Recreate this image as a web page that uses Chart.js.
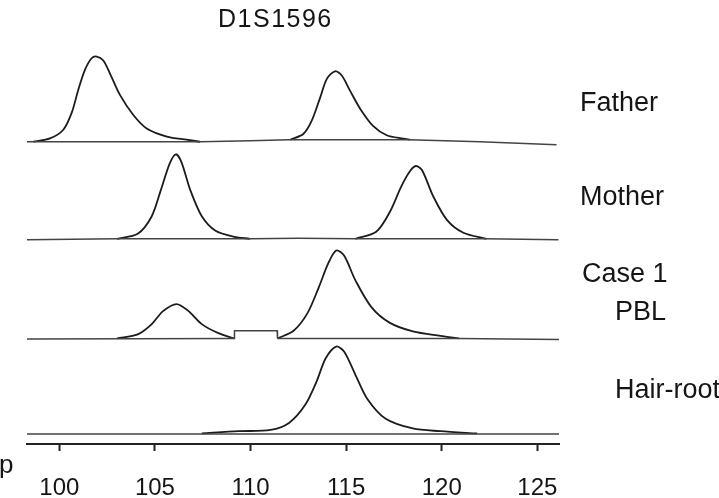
<!DOCTYPE html>
<html>
<head>
<meta charset="utf-8">
<script src="https://cdn.jsdelivr.net/npm/chart.js@4.4.1/dist/chart.umd.min.js"></script>
<style>
  html, body { margin: 0; padding: 0; background: #ffffff; }
  #wrap { width: 719px; height: 498px; position: relative; }
  canvas { display: block; }
</style>
</head>
<body>
<div id="wrap"><canvas id="c" width="719" height="498"></canvas></div>
<script>
// ---------------- data ----------------
const TITLE = 'D1S1596';
const AXIS_UNIT = 'p';
const X_TICKS = [100, 105, 110, 115, 120, 125];
const LANE_LABELS = ['Father', 'Mother', 'Case 1', 'PBL', 'Hair-root'];

// [size (bp), signal]
const fatherBaseline = [[98.31,0],[107.4,0],[110,1],[112,2],[118.3,2],[122,0],[126,-3]];
const fatherPeak1 = [[98.64,0],[99.51,3.3],[100.21,12],[100.65,29],[100.99,51.7],[101.34,71.7],[101.69,83.3],[101.96,85],[102.30,81],[102.65,68],[103.17,46.7],[103.87,26.7],[104.57,13.3],[105.62,5.2],[106.66,2],[107.36,0]];
const fatherPeak2 = [[112.07,2],[112.76,7.7],[113.20,21],[113.64,44],[113.99,62.7],[114.42,70.3],[114.77,66],[115.20,51],[115.73,33],[116.42,15.5],[117.12,6.5],[117.99,3],[118.34,2]];

const motherBaseline = [[98.31,-1],[103,0],[110,0],[112.5,0.5],[115.5,0],[122.3,0],[126.1,-1]];
const motherPeak1 = [[103.02,0],[104.10,5],[104.82,22],[105.30,48],[105.77,75],[106.09,84.3],[106.38,76.7],[106.86,48],[107.45,22.5],[108.17,8],[109.14,2],[109.97,0]];
const motherPeak2 = [[115.49,0],[116.57,7],[117.29,27],[117.89,52.5],[118.37,68.3],[118.66,72.6],[118.97,68.3],[119.57,41.7],[120.29,18.3],[121.13,6],[122.33,0]];

const caseBaseline = [[98.31,-0.5],[109.14,0],[110.3,null],[111.41,0],[120.9,0],[126.13,-1]];
const caseStep = [[109.14,0],[109.16,7.7],[111.39,7.7],[111.41,0]];
const casePeak1 = [[103.02,0],[104.10,4],[104.82,14],[105.41,27],[106.13,34.3],[106.73,27.7],[107.45,14.3],[108.29,5.5],[109.14,0]];
const casePeak2 = [[111.41,0],[112.25,7.7],[112.97,25],[113.57,51],[114.05,74.3],[114.48,87.7],[114.89,82.7],[115.49,57.7],[116.33,31],[117.29,15.5],[118.49,7],[119.93,2.5],[120.89,0]];

const hairBaseline = [[98.31,-0.5],[126.13,-0.5]];
const hairPeak = [[107.45,0],[109.37,2.3],[111.05,3.5],[112.01,10.5],[112.85,28.3],[113.45,51.7],[113.93,75],[114.48,86.7],[114.89,81.7],[115.49,58.3],[116.09,35],[117.05,15],[118.49,5],[119.93,2.3],[121.85,0]];

// ---------------- chart ----------------
const FONT = "'Liberation Sans', Arial, Helvetica, sans-serif";
const toPts = arr => arr.map(p => ({x: p[0], y: p[1]}));

function baseDs(arr, axis) {
  return { data: toPts(arr), yAxisID: axis, borderColor: '#444444', borderWidth: 1.5,
           pointRadius: 0, tension: 0, spanGaps: false, fill: false };
}
function peakDs(arr, axis) {
  return { data: toPts(arr), yAxisID: axis, borderColor: '#1c1c1c', borderWidth: 1.8,
           pointRadius: 0, tension: 0.3, fill: false };
}

const laneAxis = (min, max) => ({
  type: 'linear', position: 'left', stack: 'lanes', stackWeight: 1,
  min: min, max: max, display: true,
  ticks: { display: false },
  grid: { display: false, drawTicks: false },
  border: { display: false }
});

const textPlugin = {
  id: 'texts',
  afterDraw(chart) {
    const ctx = chart.ctx;
    ctx.save();
    ctx.fillStyle = '#151515';
    ctx.textBaseline = 'alphabetic';
    ctx.textAlign = 'left';
    ctx.font = '25px ' + FONT;
    if ('letterSpacing' in ctx) ctx.letterSpacing = '1.5px';
    ctx.fillText(TITLE, 218, 27);
    if ('letterSpacing' in ctx) ctx.letterSpacing = '0px';
    ctx.font = '27px ' + FONT;
    ctx.fillText(LANE_LABELS[0], 580, 111);
    ctx.fillText(LANE_LABELS[1], 580, 205);
    ctx.fillText(LANE_LABELS[2], 582, 282);
    ctx.textAlign = 'right';
    ctx.fillText(LANE_LABELS[3], 666, 320);
    ctx.textAlign = 'left';
    ctx.fillText(LANE_LABELS[4], 615, 398);
    ctx.font = '26px ' + FONT;
    ctx.fillText(AXIS_UNIT, -1, 473);
    ctx.restore();
  }
};

new Chart(document.getElementById('c'), {
  type: 'line',
  data: {
    datasets: [
      baseDs(hairBaseline, 'yHair'), peakDs(hairPeak, 'yHair'),
      baseDs(caseBaseline, 'yCase'), baseDs(caseStep, 'yCase'), peakDs(casePeak1, 'yCase'), peakDs(casePeak2, 'yCase'),
      baseDs(motherBaseline, 'yMother'), peakDs(motherPeak1, 'yMother'), peakDs(motherPeak2, 'yMother'),
      baseDs(fatherBaseline, 'yFather'), peakDs(fatherPeak1, 'yFather'), peakDs(fatherPeak2, 'yFather')
    ]
  },
  options: {
    responsive: false,
    devicePixelRatio: 1,
    animation: false,
    layout: { padding: { left: 27, right: 160, top: 47, bottom: -27 } },
    plugins: { legend: { display: false }, tooltip: { enabled: false }, title: { display: false } },
    scales: {
      x: {
        type: 'linear', position: 'bottom', min: 98.31, max: 126.13,
        afterBuildTicks: s => { s.ticks = X_TICKS.map(v => ({ value: v })); },
        ticks: { color: '#151515', padding: 25.6, maxRotation: 0, autoSkip: false,
                 font: { family: FONT, size: 24, lineHeight: 0.95 } },
        grid: { drawOnChartArea: false, drawTicks: true, tickLength: 7, tickWidth: 2, tickColor: '#222' },
        border: { display: true, color: '#222', width: 2 }
      },
      yHair: laneAxis(-10.5, 88.5),
      yCase: laneAxis(-6.3, 92.7),
      yMother: laneAxis(-6.7, 92.3),
      yFather: laneAxis(-4.5, 94.5)
    }
  },
  plugins: [textPlugin]
});
</script>
</body>
</html>
